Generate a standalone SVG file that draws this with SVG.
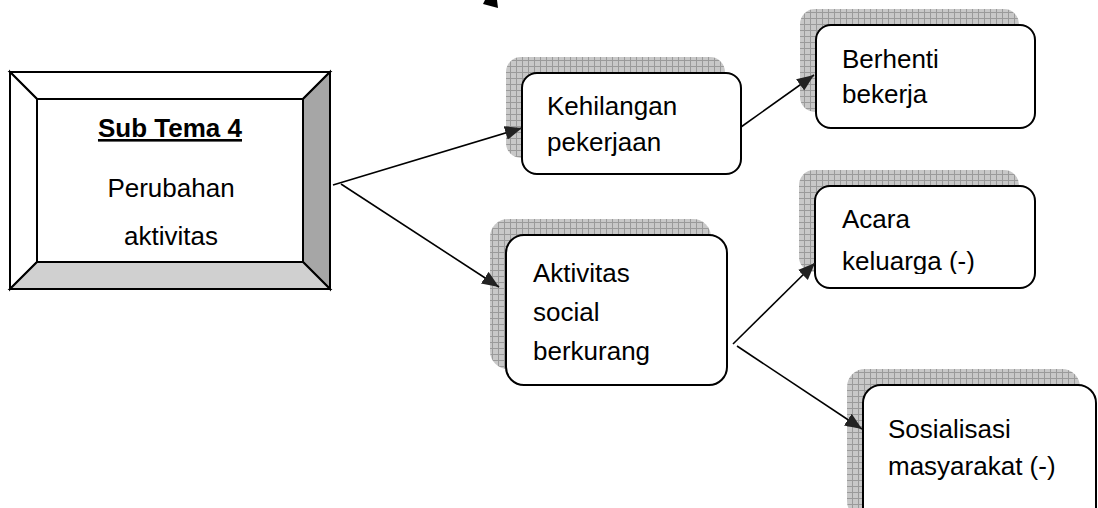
<svg xmlns="http://www.w3.org/2000/svg" width="1098" height="508" viewBox="0 0 1098 508">
  <style>
    .t { font-family: "Liberation Sans", Arial, sans-serif; font-size: 26px; fill: #000; }
    .tb { font-family: "Liberation Sans", Arial, sans-serif; font-size: 26px; fill: #000; }
    .front { fill: #fff; stroke: #000; stroke-width: 2; }
    .shadow { fill: url(#grid); }
    .bev { stroke: #000; stroke-width: 2; stroke-linejoin: miter; }
    .conn { stroke: #000; stroke-width: 1.6; fill: none; marker-end: url(#ah); }
  </style>
  <defs>
    <pattern id="grid" width="6" height="6" patternUnits="userSpaceOnUse">
      <rect width="6" height="6" fill="#c8c8c8"/>
      <path d="M0 0.5H6M0.5 0V6" stroke="#9a9a9a" stroke-width="1"/>
    </pattern>
    <marker id="ah" markerUnits="userSpaceOnUse" markerWidth="20" markerHeight="16" refX="17" refY="7" orient="auto">
      <path d="M0 0L17 7L0 14Z" fill="#222"/>
    </marker>
    <clipPath id="clipAcara">
      <rect x="815" y="186" width="220" height="88"/>
    </clipPath>
  </defs>

  <polygon points="485,0 497,0 498,8 483,4" fill="#000"/>

  <g id="node-subtema">
    <polygon class="bev" points="10,72 330,72 303,99 37,99" fill="#fff"/>
    <polygon class="bev" points="10,72 37,99 37,262 10,289" fill="#fff"/>
    <polygon class="bev" points="330,72 330,289 303,262 303,99" fill="#a6a6a6"/>
    <polygon class="bev" points="10,289 37,262 303,262 330,289" fill="#d0d0d0"/>
    <rect x="37" y="99" width="266" height="163" fill="#fff" stroke="#000" stroke-width="2"/>
    <text class="tb" x="170" y="137" text-anchor="middle" font-weight="bold" text-decoration="underline" font-size="25">Sub Tema 4</text>
    <text class="tb" x="171" y="197" text-anchor="middle">Perubahan</text>
    <text class="tb" x="171" y="245" text-anchor="middle">aktivitas</text>
  </g>

  <g id="node-kehilangan">
    <rect class="shadow" x="506" y="57" width="219" height="101" rx="15"/>
    <rect class="front" x="522" y="73" width="219" height="101" rx="15"/>
    <text class="t" x="547" y="115">Kehilangan</text>
    <text class="t" x="547" y="151">pekerjaan</text>
  </g>

  <g id="node-berhenti">
    <rect class="shadow" x="800" y="9" width="219" height="103" rx="15"/>
    <rect class="front" x="816" y="25" width="219" height="103" rx="15"/>
    <text class="t" x="842" y="68">Berhenti</text>
    <text class="t" x="842" y="103">bekerja</text>
  </g>

  <g id="node-aktivitas">
    <rect class="shadow" x="490" y="219" width="221" height="150" rx="18"/>
    <rect class="front" x="506" y="235" width="221" height="150" rx="18"/>
    <text class="t" x="533" y="282">Aktivitas</text>
    <text class="t" x="533" y="321">social</text>
    <text class="t" x="533" y="360">berkurang</text>
  </g>

  <g id="node-acara">
    <rect class="shadow" x="799" y="170" width="220" height="102" rx="15"/>
    <rect class="front" x="815" y="186" width="220" height="102" rx="15"/>
    <g clip-path="url(#clipAcara)">
      <text class="t" x="842" y="228">Acara</text>
      <text class="t" x="842" y="270">keluarga (-)</text>
    </g>
  </g>

  <g id="node-sosialisasi">
    <rect class="shadow" x="847" y="369" width="233" height="150" rx="18"/>
    <rect class="front" x="863" y="385" width="233" height="150" rx="18"/>
    <text class="t" x="888" y="438">Sosialisasi</text>
    <text class="t" x="888" y="475">masyarakat (-)</text>
  </g>

  <g id="connectors">
    <line class="conn" x1="333" y1="185" x2="522" y2="128"/>
    <line class="conn" x1="341" y1="184" x2="499" y2="287"/>
    <line class="conn" x1="741" y1="127" x2="814" y2="75"/>
    <line class="conn" x1="733" y1="344" x2="815" y2="263"/>
    <line class="conn" x1="737" y1="346" x2="862" y2="429"/>
  </g>
</svg>
